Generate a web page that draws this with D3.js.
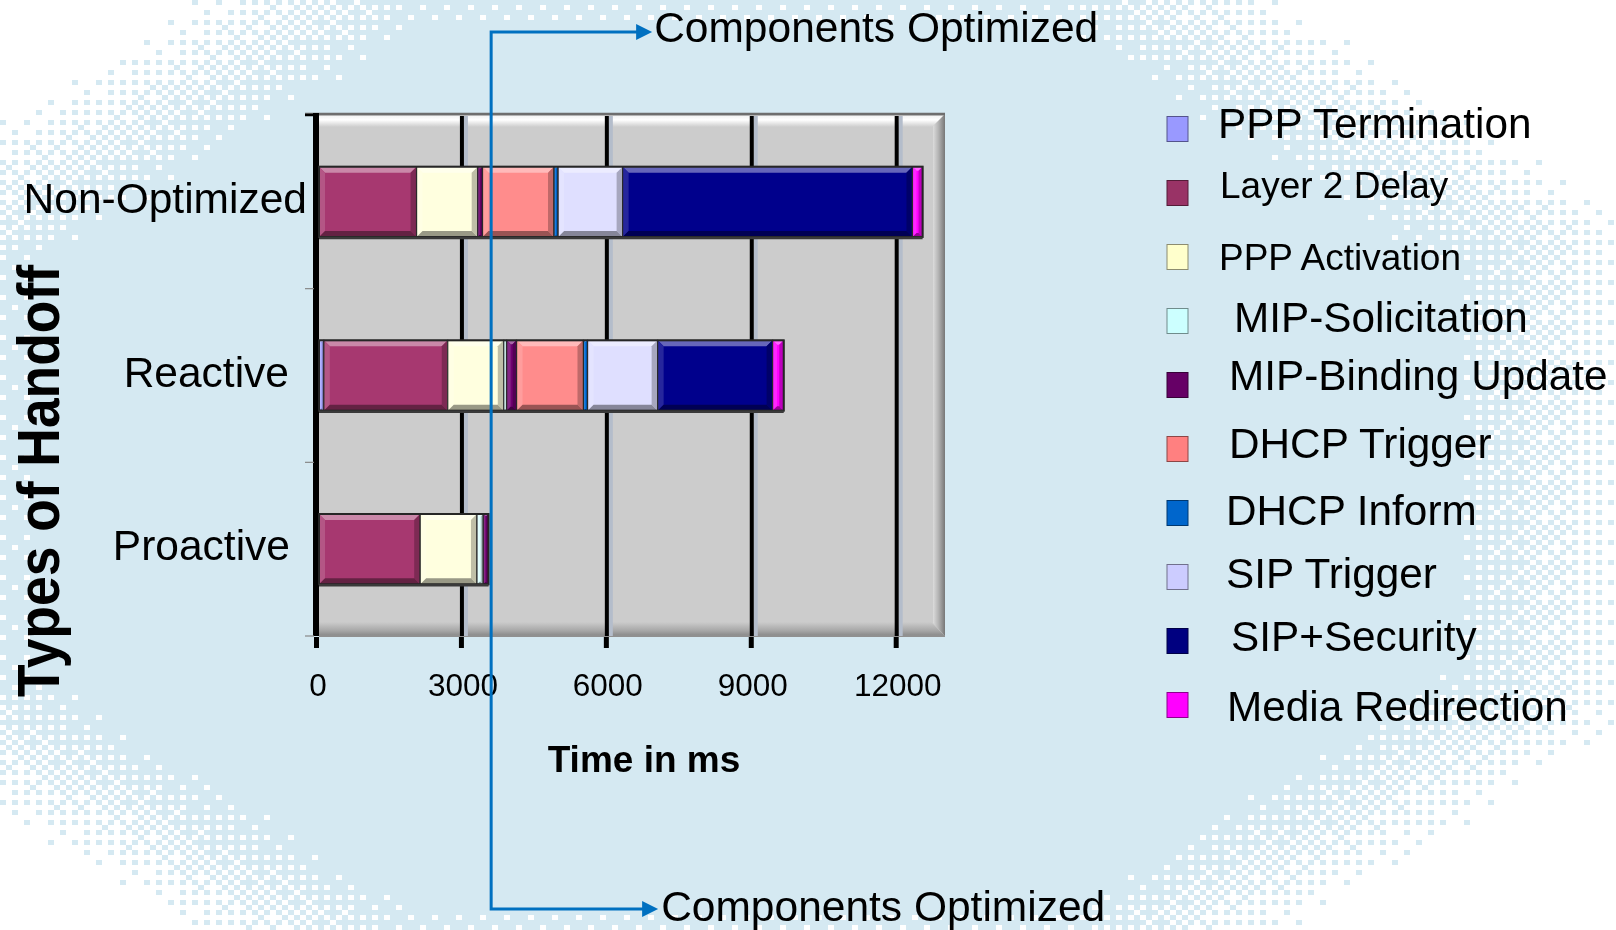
<!DOCTYPE html>
<html>
<head>
<meta charset="utf-8">
<script src="https://cdn.jsdelivr.net/npm/d3@7"></script>
<style>
body { margin: 0; background: #fff; }
#wrap { position: relative; width: 1616px; height: 930px; overflow: hidden; }
#bg, #chart svg { position: absolute; left: 0; top: 0; }
text { font-family: "Liberation Sans", Arial, sans-serif; fill: #000; }
</style>
</head>
<body>
<div id="wrap"><canvas id="bg" width="1616" height="930"></canvas><div id="chart"></div></div>
<script>
var categories = ["Non-Optimized", "Reactive", "Proactive"];
var series = ["PPP Termination", "Layer 2 Delay", "PPP Activation", "MIP-Solicitation", "MIP-Binding Update",
              "DHCP Trigger", "DHCP Inform", "SIP Trigger", "SIP+Security", "Media Redirection"];
var seriesColors = ["#9999FF", "#993366", "#FFFFCC", "#CCFFFF", "#660066",
                    "#FF8080", "#0066CC", "#CCCCFF", "#000080", "#FF00FF"];
// delay of each component in ms, same order as series
var nonOptimized = [0, 2020, 1265, 0, 100, 1480, 85, 1335, 6000, 210];
var reactive     = [100, 2565, 1160, 60, 205, 1385, 85, 1450, 2380, 230];
var proactive    = [0, 2095, 1175, 130, 110, 0, 0, 0, 0, 0];
var xTicks = [0, 3000, 6000, 9000, 12000];
var xMax = 13000;
var bracketAt = 3605; // ms, where the "Components Optimized" bracket sits

var W = 1616, H = 930;
var plot = { left: 315, right: 945, top: 115, bottom: 636 };

// ---- dithered background (light blue blob fading to white) ----
function bayerMatrix(n) {
    var m = [[0]];
    while (m.length < n) {
        var s = m.length, nm = [];
        for (var i = 0; i < 2 * s; i++) {
            nm.push([]);
            for (var j = 0; j < 2 * s; j++) {
                var q = (i < s ? 0 : 2) + (j < s ? 0 : 1);
                nm[i][j] = m[i % s][j % s] * 4 + [0, 2, 3, 1][q];
            }
        }
        m = nm;
    }
    return m;
}
(function drawBackground() {
    var ctx = document.getElementById("bg").getContext("2d");
    ctx.fillStyle = "#ffffff";
    ctx.fillRect(0, 0, W, H);
    ctx.fillStyle = "#D5E9F2";
    var bm = bayerMatrix(8), cw = 6, ch = 5;
    var cx = 740, cy = 470, rx = 800, ry = 500;
    for (var gy = 0; gy * ch < H; gy++) {
        for (var gx = 0; gx * cw < W; gx++) {
            var px = gx * cw + cw / 2, py = gy * ch + ch / 2;
            var ax = Math.abs(px - cx) / rx, ay = Math.abs(py - cy) / ry;
            var d = Math.max(ax, ay, (ax + ay) / 1.45);
            var p = Math.max(0, Math.min(1, (1.12 - d) / 0.24));
            var t = (bm[gy % 8][gx % 8] + 0.5) / 64;
            if (p > t) ctx.fillRect(gx * cw, gy * ch, cw, ch);
        }
    }
})();

// ---- chart ----
var svg = d3.select("#chart").append("svg")
    .attr("width", W)
    .attr("height", H);

var defs = svg.append("defs");
var g1 = defs.append("linearGradient").attr("id", "topBevel").attr("x1", 0).attr("y1", 0).attr("x2", 0).attr("y2", 1);
g1.append("stop").attr("offset", "0%").attr("stop-color", "#f4f4f4");
g1.append("stop").attr("offset", "35%").attr("stop-color", "#ffffff");
g1.append("stop").attr("offset", "100%").attr("stop-color", "#cccccc");
var g2 = defs.append("linearGradient").attr("id", "rightWall").attr("x1", 0).attr("y1", 0).attr("x2", 1).attr("y2", 0);
g2.append("stop").attr("offset", "0%").attr("stop-color", "#dcdcdc");
g2.append("stop").attr("offset", "45%").attr("stop-color", "#b4b4b4");
g2.append("stop").attr("offset", "100%").attr("stop-color", "#777777");
var g3 = defs.append("linearGradient").attr("id", "bottomStrip").attr("x1", 0).attr("y1", 0).attr("x2", 0).attr("y2", 1);
g3.append("stop").attr("offset", "0%").attr("stop-color", "#cccccc");
g3.append("stop").attr("offset", "60%").attr("stop-color", "#a8a8a8");
g3.append("stop").attr("offset", "100%").attr("stop-color", "#888888");

var x = d3.scaleLinear().domain([0, xMax]).range([317, plot.right]);
var y = d3.scaleBand().domain(categories)
    .range([plot.top, plot.bottom])
    .paddingInner(0.595)
    .paddingOuter(0.2975);

// plot area with its 3D frame
svg.append("rect")
    .attr("x", plot.left).attr("y", plot.top)
    .attr("width", plot.right - plot.left).attr("height", plot.bottom - plot.top)
    .attr("fill", "#cccccc");
svg.append("polygon")
    .attr("points", [[319, 116], [plot.right, 116], [932, 127], [319, 127]].join(" "))
    .attr("fill", "url(#topBevel)");
svg.append("polygon")
    .attr("points", [[319, 622], [931, 622], [plot.right, plot.bottom], [319, plot.bottom]].join(" "))
    .attr("fill", "url(#bottomStrip)");
svg.append("polygon")
    .attr("points", [[933, 126], [plot.right, 114], [plot.right, plot.bottom], [933, 623]].join(" "))
    .attr("fill", "url(#rightWall)");
svg.append("line")
    .attr("x1", 305).attr("x2", plot.right)
    .attr("y1", 114).attr("y2", 114)
    .attr("stroke", "#6e6e6e").attr("stroke-width", 2.5);
svg.append("line")
    .attr("x1", 319).attr("x2", plot.right)
    .attr("y1", plot.bottom).attr("y2", plot.bottom)
    .attr("stroke", "#909090").attr("stroke-width", 2);

// gridlines (black with bluish shadow)
var grid = xTicks.filter(function (d) { return d > 0; });
svg.selectAll(".gridShadow")
    .data(grid)
    .enter().append("rect")
    .attr("x", function (d) { return x(d) + 2; })
    .attr("y", 116)
    .attr("width", 4)
    .attr("height", plot.bottom - 116)
    .attr("fill", "#b4bdcb");
svg.selectAll(".grid")
    .data(grid)
    .enter().append("rect")
    .attr("x", function (d) { return x(d) - 2; })
    .attr("y", 116)
    .attr("width", 4)
    .attr("height", plot.bottom - 116)
    .attr("fill", "#000");

// y axis line and ticks
svg.append("rect")
    .attr("x", x(0) - 4).attr("y", 113)
    .attr("width", 6).attr("height", plot.bottom - 113)
    .attr("fill", "#000");
var bounds = d3.range(categories.length + 1).map(function (i) { return plot.top + i * y.step(); });
svg.selectAll(".yTick")
    .data(bounds)
    .enter().append("line")
    .attr("x1", 305).attr("x2", 314)
    .attr("y1", function (d) { return d; })
    .attr("y2", function (d) { return d; })
    .attr("stroke", function (d, i) { return i === 0 ? "#000" : "#888"; })
    .attr("stroke-width", function (d, i) { return i === 0 ? 2.5 : 1.2; });

// x axis ticks and labels
svg.selectAll(".xTick")
    .data(xTicks)
    .enter().append("rect")
    .attr("x", function (d) { return x(d) - 3; })
    .attr("y", plot.bottom + 1)
    .attr("width", 5)
    .attr("height", 11)
    .attr("fill", "#000");
svg.selectAll(".xLabel")
    .data(xTicks)
    .enter().append("text")
    .attr("x", function (d) { return x(d) + 1; })
    .attr("y", 696)
    .attr("text-anchor", "middle")
    .style("font-size", "31.5px")
    .text(function (d) { return d; });

svg.append("text")
    .attr("x", 644).attr("y", 772)
    .attr("text-anchor", "middle")
    .style("font-size", "37px")
    .style("font-weight", "bold")
    .text("Time in ms");

svg.append("text")
    .attr("transform", "translate(59,481) rotate(-90)")
    .attr("text-anchor", "middle")
    .attr("textLength", 432)
    .attr("lengthAdjust", "spacingAndGlyphs")
    .style("font-size", "59px")
    .style("font-weight", "bold")
    .text("Types of Handoff");

// category labels
var catRight = [307, 289, 290];
svg.selectAll(".yLabel")
    .data(categories)
    .enter().append("text")
    .attr("x", function (d, i) { return catRight[i]; })
    .attr("y", function (d) { return y(d) + y.bandwidth() / 2 + 11; })
    .attr("text-anchor", "end")
    .style("font-size", "42.5px")
    .text(function (d) { return d; });

// stacked bars
var values = [nonOptimized, reactive, proactive];
var rows = categories.map(function (c, i) {
    var r = { cat: c };
    series.forEach(function (s, j) { r[s] = values[i][j]; });
    return r;
});
var stacked = d3.stack().keys(series)(rows);
var toWhite = function (c, t) { return d3.interpolateRgb(c, "#ffffff")(t); };
var toBlack = function (c, t) { return d3.interpolateRgb(c, "#000000")(t); };
var lit = function (c) { return d3.rgb(c).brighter(0.25).formatHex(); };

var segs = [];
stacked.forEach(function (layer, li) {
    layer.forEach(function (d) {
        if (d[1] - d[0] > 0) segs.push({ x0: x(d[0]) + 2, x1: x(d[1]) + 2, y0: y(d.data.cat), y1: y(d.data.cat) + y.bandwidth(), c: lit(seriesColors[li]) });
    });
});
var seg = svg.selectAll(".seg").data(segs).enter().append("g");
seg.append("rect")
    .attr("x", function (d) { return d.x0; })
    .attr("y", function (d) { return d.y0; })
    .attr("width", function (d) { return d.x1 - d.x0; })
    .attr("height", function (d) { return d.y1 - d.y0; })
    .attr("fill", function (d) { return d.c; });
function bevel(side) {
    return function (d) {
        var b = Math.min(6, (d.x1 - d.x0) / 2.5);
        var p;
        if (side === "top") p = [[d.x0, d.y0], [d.x1, d.y0], [d.x1 - b, d.y0 + b], [d.x0 + b, d.y0 + b]];
        if (side === "left") p = [[d.x0, d.y0], [d.x0 + b, d.y0 + b], [d.x0 + b, d.y1 - b], [d.x0, d.y1]];
        if (side === "right") p = [[d.x1, d.y0], [d.x1, d.y1], [d.x1 - b, d.y1 - b], [d.x1 - b, d.y0 + b]];
        if (side === "bottom") p = [[d.x0, d.y1], [d.x1, d.y1], [d.x1 - b, d.y1 - b], [d.x0 + b, d.y1 - b]];
        return p.join(" ");
    };
}
seg.append("polygon").attr("points", bevel("top")).attr("fill", function (d) { return toWhite(d.c, 0.4); });
seg.append("polygon").attr("points", bevel("left")).attr("fill", function (d) { return toWhite(d.c, 0.15); });
seg.append("polygon").attr("points", bevel("right")).attr("fill", function (d) { return toBlack(d.c, 0.25); });
seg.append("polygon").attr("points", bevel("bottom")).attr("fill", function (d) { return toBlack(d.c, 0.4); });
seg.append("rect")
    .attr("x", function (d) { return d.x0; })
    .attr("y", function (d) { return d.y0; })
    .attr("width", function (d) { return d.x1 - d.x0; })
    .attr("height", function (d) { return d.y1 - d.y0; })
    .attr("fill", "none")
    .attr("stroke", "#2a2a2a")
    .attr("stroke-width", 1.2);

// outline of each whole bar
svg.selectAll(".barOutline")
    .data(rows)
    .enter().append("rect")
    .attr("x", x(0) + 2)
    .attr("y", function (d) { return y(d.cat); })
    .attr("width", function (d) { return x(d3.sum(series, function (s) { return d[s]; })) - x(0); })
    .attr("height", y.bandwidth())
    .attr("fill", "none")
    .attr("stroke", "#262626")
    .attr("stroke-width", 2);
svg.selectAll(".barShadow")
    .data(rows)
    .enter().append("line")
    .attr("x1", x(0) + 2)
    .attr("x2", function (d) { return x(d3.sum(series, function (s) { return d[s]; })) + 2; })
    .attr("y1", function (d) { return y(d.cat) + y.bandwidth() + 1; })
    .attr("y2", function (d) { return y(d.cat) + y.bandwidth() + 1; })
    .attr("stroke", "#3a3a3a")
    .attr("stroke-width", 2.5);

// "Components Optimized" bracket
var bx = x(bracketAt), topY = 32, botY = 909, blue = "#0070C0";
svg.append("path")
    .attr("d", "M" + (bx + 148) + "," + topY + "H" + bx + "V" + botY + "H" + (bx + 155))
    .attr("fill", "none")
    .attr("stroke", blue)
    .attr("stroke-width", 3);
svg.append("path")
    .attr("d", d3.line()([[bx + 145, topY - 8], [bx + 161, topY], [bx + 145, topY + 8]]) + "Z")
    .attr("fill", blue);
svg.append("path")
    .attr("d", d3.line()([[bx + 151, botY - 8], [bx + 167, botY], [bx + 151, botY + 8]]) + "Z")
    .attr("fill", blue);
svg.append("text")
    .attr("x", bx + 163).attr("y", topY + 10)
    .style("font-size", "42.5px")
    .text("Components Optimized");
svg.append("text")
    .attr("x", bx + 170).attr("y", botY + 12)
    .style("font-size", "42.5px")
    .text("Components Optimized");

// legend
var legendTop = 116.5, legendStep = 64;
var legendSize = [42.3, 37, 37, 42.3, 42.3, 42.3, 42.3, 42.3, 42.3, 42.3];
var legendDx = [-8, -6, -7, 8, 3, 3, 0, 0, 5, 1];
var legendDy = [21.6, 17.6, 25.4, 23.4, 17.3, 21.3, 24, 23.3, 22.4, 28.4];
var legend = svg.selectAll(".legend")
    .data(series)
    .enter().append("g")
    .attr("transform", function (d, i) { return "translate(1167," + (legendTop + i * legendStep) + ")"; });
legend.append("rect")
    .attr("width", 21)
    .attr("height", 25)
    .attr("fill", function (d, i) { return seriesColors[i]; })
    .attr("stroke", function (d, i) { return toBlack(seriesColors[i], 0.45); })
    .attr("stroke-width", 1);
legend.append("text")
    .attr("x", function (d, i) { return 59 + legendDx[i]; })
    .attr("y", function (d, i) { return legendDy[i]; })
    .style("font-size", function (d, i) { return legendSize[i] + "px"; })
    .text(function (d) { return d; });
</script>
</body>
</html>
